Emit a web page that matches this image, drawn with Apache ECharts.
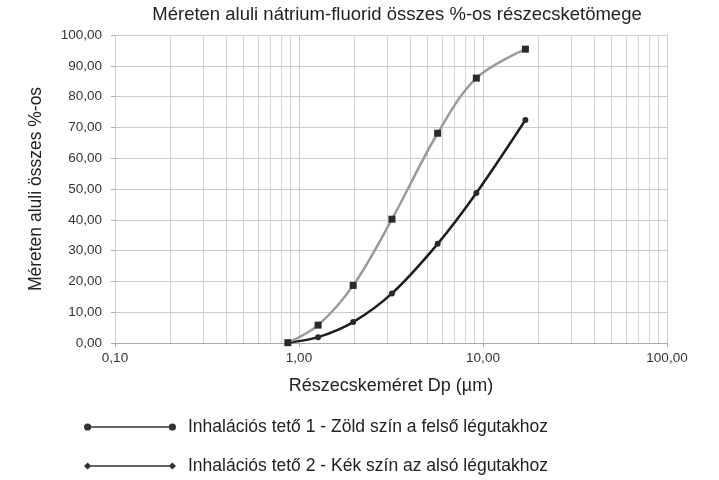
<!DOCTYPE html>
<html>
<head>
<meta charset="utf-8">
<script src="https://cdn.jsdelivr.net/npm/echarts@6/dist/echarts.min.js"></script>
<style>html,body{margin:0;padding:0;background:#fff}#c{width:719px;height:480px}</style>
</head>
<body>
<div id="c"></div>
<script>
var sizes = [0.87, 1.27, 1.97, 3.2, 5.67, 9.2, 17.0];
var series1Values = [0.1, 1.9, 6.8, 16.1, 32.2, 48.7, 72.4];
var series2Values = [0.1, 5.8, 18.7, 40.2, 68.1, 86.0, 95.4];
var series1Name = 'Inhalációs tető 1 - Zöld szín a felső légutakhoz';
var series2Name = 'Inhalációs tető 2 - Kék szín az alsó légutakhoz';
var titleText = 'Méreten aluli nátrium-fluorid összes %-os részecsketömege';
var xAxisName = 'Részecskeméret Dp (µm)';
var yAxisName = 'Méreten aluli összes %-os';
var minorGridValues = [0.2,0.3,0.4,0.5,0.6,0.7,0.8,0.9,2,3,4,5,6,7,8,9,20,30,40,50,60,70,80,90];

function fmt(v){ return Number(v).toFixed(2).replace('.', ','); }
function pairs(xs, ys){ return xs.map(function(x,i){ return [x, ys[i]]; }); }

var iconCircle = 'path://M4,1 A3.5,3.5 0 1,1 4,8 A3.5,3.5 0 1,1 4,1 Z M86,1 A3.5,3.5 0 1,1 86,8 A3.5,3.5 0 1,1 86,1 Z M4,3.8 L86,3.8 L86,5.2 L4,5.2 Z';
var iconDiamond = 'path://M0.5,4.5 L4,1 L7.5,4.5 L4,8 Z M82.5,4.5 L86,1 L89.5,4.5 L86,8 Z M4,3.8 L86,3.8 L86,5.2 L4,5.2 Z';

var chart = echarts.init(document.getElementById('c'));
chart.setOption({
  animation: false,
  backgroundColor: '#fff',
  title: {
    text: titleText, left: 392, top: 0, textAlign: 'center',
    textStyle: {fontFamily: 'Liberation Sans', fontSize: 18.5, fontWeight: 'normal', color: '#222'}
  },
  grid: {left: 115, right: 52, top: 35, bottom: 137},
  legend: {
    orient: 'vertical', left: 84, top: 418, padding: 0, height: 62,
    itemWidth: 92, itemHeight: 9, itemGap: 21,
    textStyle: {fontFamily: 'Liberation Sans', fontSize: 17.5, color: '#222', padding: [0,0,0,7]},
    data: [
      {name: series1Name, icon: iconCircle, itemStyle: {color: '#333'}},
      {name: series2Name, icon: iconDiamond, itemStyle: {color: '#333'}}
    ]
  },
  xAxis: {
    type: 'log', logBase: 10, min: 0.1, max: 100,
    name: xAxisName, nameLocation: 'middle', nameGap: 34,
    nameTextStyle: {fontFamily: 'Liberation Sans', fontSize: 18, color: '#222'},
    axisLine: {lineStyle: {color: '#aaa', width: 1}},
    axisTick: {show: true, length: 4, lineStyle: {color: '#aaa'}},
    axisLabel: {formatter: fmt, fontFamily: 'Liberation Sans', fontSize: 13.5, color: '#333', margin: 8},
    splitLine: {show: true, lineStyle: {color: '#cbcbcb', width: 1}}
  },
  yAxis: {
    type: 'value', min: 0, max: 100, interval: 10,
    name: yAxisName, nameLocation: 'middle', nameGap: 70, nameRotate: 90,
    nameTextStyle: {fontFamily: 'Liberation Sans', fontSize: 17.5, color: '#222'},
    axisLine: {show: false},
    axisTick: {show: true, length: 4, lineStyle: {color: '#aaa'}},
    axisLabel: {formatter: fmt, fontFamily: 'Liberation Sans', fontSize: 13.5, color: '#333', margin: 13},
    splitLine: {show: true, lineStyle: {color: '#cbcbcb', width: 1}}
  },
  series: [
    {
      name: series1Name, type: 'line', smooth: 0.35,
      data: pairs(sizes, series1Values),
      symbol: 'circle', symbolSize: 6,
      lineStyle: {color: '#1e1e1e', width: 2.5},
      itemStyle: {color: '#2a2a2a'},
      z: 3,
      markLine: {
        silent: true, symbol: 'none', label: {show: false},
        lineStyle: {color: '#d3d3d3', width: 1, type: 'solid'},
        data: minorGridValues.map(function(v){ return {xAxis: v}; }),
        z: 1
      }
    },
    {
      name: series2Name, type: 'line', smooth: 0.35,
      data: pairs(sizes, series2Values),
      symbol: 'rect', symbolSize: 7,
      lineStyle: {color: '#9a9a9a', width: 2.5},
      itemStyle: {color: '#2a2a2a'},
      z: 4
    }
  ]
});
</script>
</body>
</html>
